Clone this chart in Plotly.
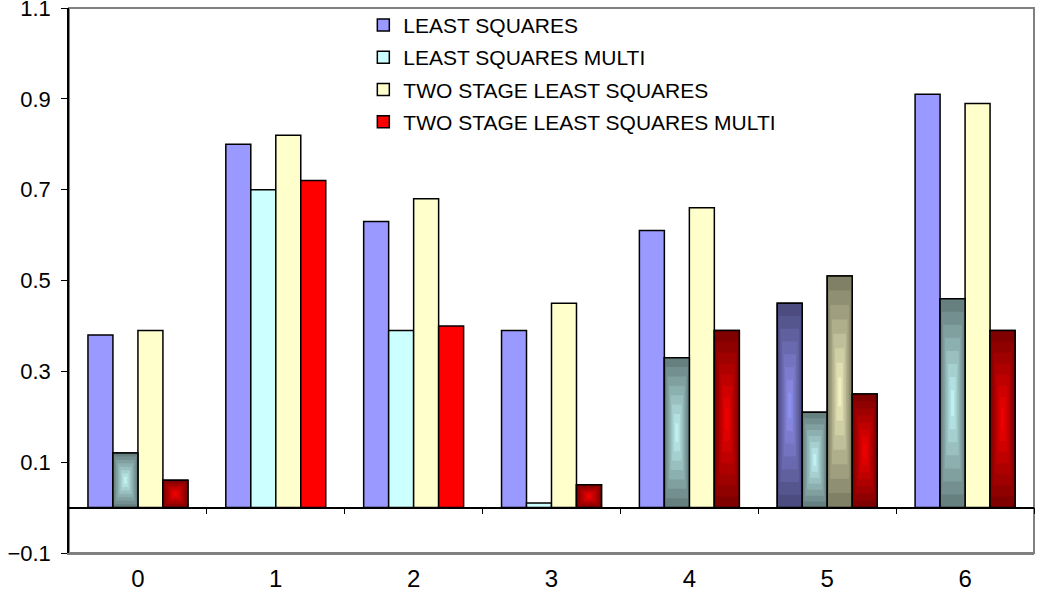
import plotly.graph_objects as go

categories = ["0", "1", "2", "3", "4", "5", "6"]
series_names = ["LEAST SQUARES", "LEAST SQUARES MULTI",
                "TWO STAGE LEAST SQUARES", "TWO STAGE LEAST SQUARES MULTI"]
least_squares = [0.38, 0.80, 0.63, 0.39, 0.61, 0.45, 0.91]
least_squares_multi = [0.12, 0.70, 0.39, 0.01, 0.33, 0.21, 0.46]
two_stage = [0.39, 0.82, 0.68, 0.45, 0.66, 0.51, 0.89]
two_stage_multi = [0.06, 0.72, 0.40, 0.05, 0.39, 0.25, 0.39]
y_ticks = [-0.1, 0.1, 0.3, 0.5, 0.7, 0.9, 1.1]

series_values = [least_squares, least_squares_multi, two_stage, two_stage_multi]

# styles
base_colors = [(0x99, 0x99, 0xFF), (0xCC, 0xFF, 0xFF), (0xFF, 0xFF, 0xCC), (0xFF, 0x00, 0x00)]
gradient_flags = [
    [0, 0, 0, 0, 0, 1, 0],
    [1, 0, 0, 0, 1, 1, 1],
    [0, 0, 0, 0, 0, 1, 0],
    [1, 0, 0, 1, 1, 1, 1],
]
group_width = 0.725
bar_w = group_width / 4
n_layers = 8


def rgb(c):
    return "rgb(%d,%d,%d)" % tuple(int(round(v)) for v in c)


def mix(a, b, t):
    return tuple(a[i] + (b[i] - a[i]) * t for i in range(3))


fig = go.Figure()
xs_num = list(range(len(categories)))

for i, (name, vals) in enumerate(zip(series_names, series_values)):
    fig.add_trace(go.Bar(
        x=[c + (i - 1.5) * bar_w for c in xs_num], y=vals, width=bar_w,
        name=name, legendgroup=name,
        marker=dict(color=rgb(base_colors[i]), line=dict(color="black", width=1.5)),
    ))

# gradient-filled bars as nested layers
for k in range(n_layers):
    t = k / n_layers
    gx, gy, gb, gw, gc = [], [], [], [], []
    for i, vals in enumerate(series_values):
        center = base_colors[i]
        edge = tuple(v * 0.5 for v in center)
        for c, v in enumerate(vals):
            if gradient_flags[i][c]:
                gx.append(xs_num[c] + (i - 1.5) * bar_w)
                gy.append(v * (1 - t))
                gb.append(v * t / 2)
                gw.append(bar_w * (1 - t))
                gc.append(rgb(mix(edge, center, t)))
    fig.add_trace(go.Bar(
        x=gx, y=gy, base=gb, width=gw, showlegend=False, hoverinfo="skip",
        marker=dict(color=gc, line=dict(color="black", width=1.5 if k == 0 else 0)),
    ))

# helper trace for the zero-crossing category axis
fig.add_trace(go.Scatter(x=[-0.5, 6.5], y=[0, 0], xaxis="x2", mode="lines",
                         line=dict(width=0), showlegend=False, hoverinfo="skip"))

fig.update_layout(
    width=1039, height=607,
    margin=dict(l=69, r=5, t=5, b=54),
    paper_bgcolor="white", plot_bgcolor="white",
    barmode="overlay",
    font=dict(family="Liberation Sans, Arial, sans-serif", color="black"),
    xaxis=dict(range=[-0.5, 6.5], tickmode="array", tickvals=xs_num, ticktext=categories,
               showline=True, linecolor="#808080", linewidth=2, ticks="",
               showgrid=False, zeroline=False, tickfont=dict(size=24),
               ticklabelstandoff=3, automargin=False),
    xaxis2=dict(range=[-0.5, 6.5], overlaying="x", anchor="free",
                position=(0 - y_ticks[0]) / (y_ticks[-1] - y_ticks[0]),
                tickmode="array", tickvals=[c + 0.5 for c in xs_num],
                ticks="outside", ticklen=6, tickcolor="black", tickwidth=1,
                showline=True, linecolor="black", linewidth=1.5,
                showticklabels=False, showgrid=False, zeroline=False, automargin=False),
    yaxis=dict(range=[y_ticks[0], y_ticks[-1]], tickmode="array", tickvals=y_ticks,
               tickformat=".1f", ticks="outside", ticklen=6, tickcolor="black",
               showline=True, linecolor="black", linewidth=1.5,
               showgrid=False, zeroline=False, tickfont=dict(size=22),
               ticklabelstandoff=6, automargin=False, ticklabeloverflow="allow"),
    legend=dict(x=0.305, y=1.006, xanchor="left", yanchor="top",
                bgcolor="rgba(0,0,0,0)", font=dict(size=21),
                traceorder="grouped", tracegroupgap=2),
    shapes=[dict(type="rect", xref="paper", yref="paper", x0=0, y0=0, x1=1, y1=1,
                 line=dict(color="#808080", width=2), layer="below")],
)

fig.write_html("out.html", config={"displayModeBar": False},
               post_script="document.body.style.margin='0';document.body.style.padding='0';")
